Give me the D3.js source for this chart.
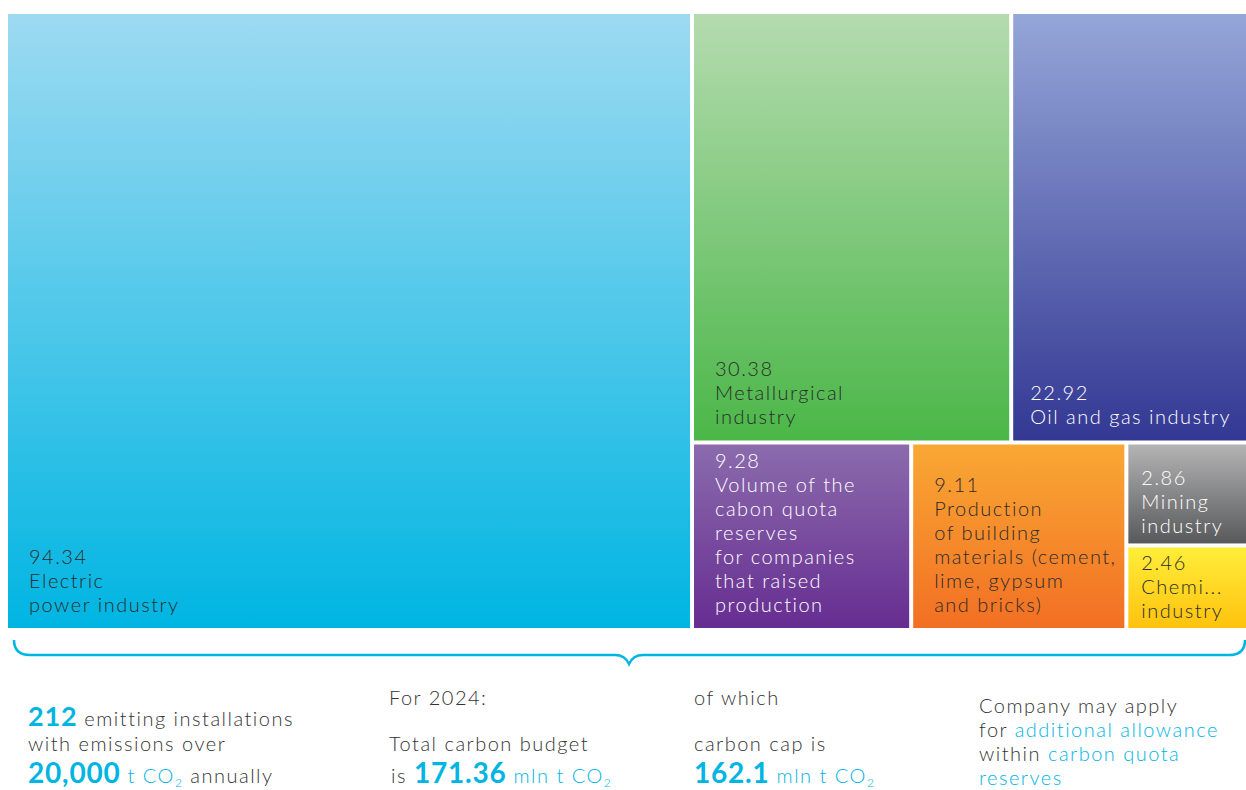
<!DOCTYPE html>
<html>
<head>
<meta charset="utf-8">
<script src="https://cdn.jsdelivr.net/npm/d3@7/dist/d3.min.js"></script>
<style>
  html, body { margin: 0; padding: 0; background: #fff; }
  svg { display: block; font-family: "Lato", "Open Sans", sans-serif; }
</style>
</head>
<body>
<svg id="chart" width="1246" height="790"></svg>
<script>
// ---- data ----
const categories = [
  "Electric power industry",
  "Metallurgical industry",
  "Oil and gas industry",
  "Volume of the cabon quota reserves for companies that raised production",
  "Production of building materials (cement, lime, gypsum and bricks)",
  "Mining industry",
  "Chemical industry"
];
const values = [94.34, 30.38, 22.92, 9.28, 9.11, 2.86, 2.46];
const valueLabels = ["94.34", "30.38", "22.92", "9.28", "9.11", "2.86", "2.46"];
// label lines as shown on the picture
const labelLines = [
  ["Electric", "power industry"],
  ["Metallurgical", "industry"],
  ["Oil and gas industry"],
  ["Volume of the", "cabon quota", "reserves", "for companies", "that raised", "production"],
  ["Production", "of building", "materials (cement,", "lime, gypsum", "and bricks)"],
  ["Mining", "industry"],
  ["Chemi...", "industry"]
];
// ---- styles ----
const topColors    = ["#9DDAF1", "#B4DBAF", "#95A6D8", "#8B6BAC", "#F9A834", "#B4B4B5", "#FFEE3A"];
const bottomColors = ["#00B5E2", "#4BB748", "#333893", "#662D91", "#F26F23", "#58595B", "#FFC20E"];
const textColors   = ["#2b2b2b", "#2b2b2b", "#ffffff", "#ffffff", "#2b2b2b", "#ffffff", "#2b2b2b"];

const CYAN = "#00B5E2", DARK = "#333333";

const svg = d3.select("#chart");
const defs = svg.append("defs");

const X0 = 8, Y0 = 14, W = 1246 - X0, H = 628 - Y0;

const root = d3.hierarchy({children: categories.map((c, i) => ({name: c, value: values[i], i}))})
  .sum(d => d.value || 0)
  .sort((a, b) => b.value - a.value);

d3.treemap()
  .tile(d3.treemapSquarify)
  .size([W + 4, H + 4])
  .paddingInner(4)
  .round(false)(root);

const leaves = root.leaves();

leaves.forEach(d => {
  const i = d.data.i;
  const g = defs.append("linearGradient")
    .attr("id", "grad" + i)
    .attr("x1", 0).attr("y1", 0).attr("x2", 0).attr("y2", 1);
  g.append("stop").attr("offset", "0%").attr("stop-color", topColors[i]);
  g.append("stop").attr("offset", "100%").attr("stop-color", bottomColors[i]);
});

const cells = svg.append("g")
  .attr("transform", `translate(${X0},${Y0})`)
  .selectAll("g.cell")
  .data(leaves)
  .join("g")
  .attr("class", "cell");

const cellW = d => Math.min(d.x1, W) - d.x0;
const cellH = d => Math.min(d.y1, H) - d.y0;

cells.append("rect")
  .attr("x", d => d.x0)
  .attr("y", d => d.y0)
  .attr("width", cellW)
  .attr("height", cellH)
  .attr("fill", d => `url(#grad${d.data.i})`);

const LH = 24;
cells.each(function(d) {
  const i = d.data.i;
  const w = cellW(d), h = cellH(d);
  const padX = w < 150 ? 13 : (w < 250 && d.y0 < 10 ? 17 : 21);
  const padB = h < 120 ? 10 : 16;
  const lines = [valueLabels[i], ...labelLines[i]];
  const yLast = d.y0 + h - padB;
  const t = d3.select(this).append("text")
    .attr("fill", textColors[i])
    .attr("font-size", 20)
    .attr("font-weight", 300)
    .attr("letter-spacing", 1.5);
  lines.forEach((ln, k) => {
    t.append("tspan")
      .attr("x", d.x0 + padX)
      .attr("y", yLast - (lines.length - 1 - k) * LH)
      .text(ln);
  });
});

// ---- brace ----
const bY = 655, bL = 14, bR = 1245, bM = 629;
svg.append("path")
  .attr("d", `M${bL},640 Q${bL},${bY} ${bL + 16},${bY} L${bM - 14},${bY} Q${bM - 4},${bY} ${bM},${bY + 9} Q${bM + 4},${bY} ${bM + 14},${bY} L${bR - 16},${bY} Q${bR},${bY} ${bR},640`)
  .attr("fill", "none")
  .attr("stroke", CYAN)
  .attr("stroke-width", 2.5);

// ---- bottom notes ----
function note(x, y, parts) {
  const t = svg.append("text").attr("x", x).attr("y", y)
    .attr("font-size", 20).attr("font-weight", 300).attr("letter-spacing", 1.5);
  parts.forEach(p => {
    const s = t.append("tspan").text(p.t).attr("fill", p.c || DARK);
    if (p.b) s.attr("font-weight", "bold").attr("font-size", p.s || 28).attr("letter-spacing", 0.8);
    if (p.sub) s.attr("font-size", 12).attr("dy", 4);
    if (p.up) s.attr("dy", -4);
  });
  return t;
}
const sub = () => ({t: "2", sub: true, c: CYAN});

note(28, 726, [{t: "212", b: true, c: CYAN, s: 27}, {t: " emitting installations"}]);
note(28, 751, [{t: "with emissions over"}]);
note(28, 783, [{t: "20,000", b: true, c: CYAN}, {t: " t CO", c: CYAN}, sub(), {t: " annually", up: true}]);

note(389, 705, [{t: "For 2024:"}]);
note(389, 751, [{t: "Total carbon budget"}]);
note(391, 783, [{t: "is "}, {t: "171.36", b: true, c: CYAN}, {t: " mln t CO", c: CYAN}, sub()]);

note(694, 705, [{t: "of which"}]);
note(694, 751, [{t: "carbon cap is"}]);
note(694, 783, [{t: "162.1", b: true, c: CYAN}, {t: " mln t CO", c: CYAN}, sub()]);

note(979, 713, [{t: "Company may apply"}]);
note(979, 737, [{t: "for "}, {t: "additional allowance", c: CYAN}]);
note(979, 761, [{t: "within "}, {t: "carbon quota", c: CYAN}]);
note(979, 785, [{t: "reserves", c: CYAN}]);
</script>
</body>
</html>
